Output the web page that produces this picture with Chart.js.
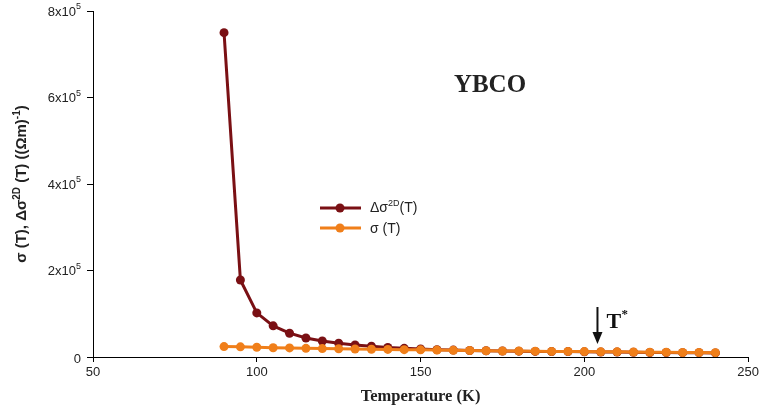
<!DOCTYPE html>
<html>
<head>
<meta charset="utf-8">
<script src="https://cdn.jsdelivr.net/npm/chart.js@4.4.1/dist/chart.umd.min.js"></script>
<style>
  html, body { margin: 0; padding: 0; background: #fff; }
  #wrap { width: 762px; height: 411px; position: relative; }
</style>
</head>
<body>
<div id="wrap"><canvas id="chart"></canvas></div>
<script>
// temperatures (K)
const temps = [90, 95, 100, 105, 110, 115, 120, 125, 130, 135, 140, 145, 150, 155, 160,
    165, 170, 175, 180, 185, 190, 195, 200, 205, 210, 215, 220, 225, 230, 235, 240];

// delta sigma 2D (T)
const deltaSigma2D = [750000, 178000, 102000, 72000, 55000, 44000, 37000, 32000, 28000, 25000,
    22000, 20000, 18500, 17000, 16000, 15000, 14500, 14000, 13500, 13000, 12500, 12500, 12000,
    11500, 11500, 11000, 10500, 10500, 10000, 10000, 9500];

// sigma (T)
const sigmaT = [24000, 23500, 22500, 21500, 21000, 20000, 19500, 19000, 18500, 18000, 17500,
    17000, 16500, 16000, 15500, 15000, 14500, 14000, 14000, 13500, 13000, 13000, 12500, 12000,
    12000, 11500, 11000, 11000, 10500, 10500, 10000];

const yTicks = [0, 2, 4, 6, 8];
const xTicks = [50, 100, 150, 200, 250];

const brown = "#7a1014";
const orange = "#f07f1a";

function toPoints(vals) {
    return temps.map((t, i) => ({ x: t, y: vals[i] }));
}

// custom labels, legend and annotations
const decorPlugin = {
    id: "decor",
    afterDraw: (chart) => {
        const { ctx, scales } = chart;
        const y = scales.y;
        ctx.save();
        ctx.fillStyle = "#222";

        // y tick labels with superscript
        yTicks.forEach((v) => {
            const py = y.getPixelForValue(v * 100000);
            ctx.textBaseline = "middle";
            ctx.textAlign = "right";
            if (v === 0) {
                ctx.font = "13px 'Liberation Sans', Arial";
                ctx.fillText("0", 81, py + 2);
            } else {
                ctx.font = "9px 'Liberation Sans', Arial";
                ctx.fillText("5", 81, py - 4);
                const w5 = ctx.measureText("5").width;
                ctx.font = "13px 'Liberation Sans', Arial";
                ctx.fillText(v + "x10", 81 - w5, py + 1);
            }
        });

        // y axis title, rotated
        ctx.translate(22, 184);
        ctx.rotate(-Math.PI / 2);
        const parts = [
            ["σ (T), Δσ", "bold 15px 'Liberation Sans', Arial", 0],
            ["2D", "bold 10px 'Liberation Sans', Arial", -5],
            [" (T) ((Ωm)", "bold 15px 'Liberation Sans', Arial", 0],
            ["-1", "bold 10px 'Liberation Sans', Arial", -5],
            [")", "bold 15px 'Liberation Sans', Arial", 0],
        ];
        let total = 0;
        parts.forEach((p) => { ctx.font = p[1]; total += ctx.measureText(p[0]).width; });
        let cx = -total / 2;
        ctx.textAlign = "left";
        ctx.textBaseline = "middle";
        parts.forEach((p) => {
            ctx.font = p[1];
            ctx.fillText(p[0], cx, p[2]);
            cx += ctx.measureText(p[0]).width;
        });
        ctx.setTransform(1, 0, 0, 1, 0, 0);

        // legend
        const legend = [
            { color: brown, y: 208 },
            { color: orange, y: 228 },
        ];
        legend.forEach((l) => {
            ctx.strokeStyle = l.color;
            ctx.lineWidth = 3;
            ctx.beginPath();
            ctx.moveTo(320, l.y);
            ctx.lineTo(361, l.y);
            ctx.stroke();
            ctx.fillStyle = l.color;
            ctx.beginPath();
            ctx.arc(340, l.y, 4.5, 0, Math.PI * 2);
            ctx.fill();
        });
        ctx.fillStyle = "#222";
        ctx.textAlign = "left";
        ctx.textBaseline = "middle";
        ctx.font = "14px 'Liberation Sans', Arial";
        ctx.fillText("Δσ", 370, 208);
        let lx = 370 + ctx.measureText("Δσ").width;
        ctx.font = "9px 'Liberation Sans', Arial";
        ctx.fillText("2D", lx, 204);
        lx += ctx.measureText("2D").width;
        ctx.font = "14px 'Liberation Sans', Arial";
        ctx.fillText("(T)", lx, 208);
        ctx.fillText("σ (T)", 370, 229);

        // YBCO label
        ctx.font = "bold 25px 'Liberation Serif', 'Times New Roman'";
        ctx.textAlign = "center";
        ctx.textBaseline = "alphabetic";
        ctx.fillText("YBCO", 490, 92);

        // T* arrow
        const ax = chart.scales.x.getPixelForValue(204);
        ctx.strokeStyle = "#111";
        ctx.fillStyle = "#111";
        ctx.lineWidth = 2;
        ctx.beginPath();
        ctx.moveTo(ax, 307);
        ctx.lineTo(ax, 335);
        ctx.stroke();
        ctx.beginPath();
        ctx.moveTo(ax - 5, 332);
        ctx.lineTo(ax + 5, 332);
        ctx.lineTo(ax, 344);
        ctx.closePath();
        ctx.fill();
        ctx.textAlign = "left";
        ctx.font = "bold 22px 'Liberation Serif', 'Times New Roman'";
        ctx.fillText("T", ax + 9, 328);
        ctx.font = "bold 13px 'Liberation Serif', 'Times New Roman'";
        ctx.fillText("*", ax + 24, 318);
        ctx.restore();
    },
};

new Chart(document.getElementById("chart"), {
    type: "line",
    plugins: [decorPlugin],
    data: {
        datasets: [
            {
                label: "Δσ2D(T)",
                data: toPoints(deltaSigma2D),
                borderColor: brown,
                backgroundColor: brown,
                borderWidth: 3,
                pointRadius: 4.5,
                pointBorderWidth: 0,
                tension: 0,
                order: 2,
            },
            {
                label: "σ (T)",
                data: toPoints(sigmaT),
                borderColor: orange,
                backgroundColor: orange,
                borderWidth: 3,
                pointRadius: 4.5,
                pointBorderWidth: 0,
                tension: 0,
                order: 1,
            },
        ],
    },
    options: {
        responsive: true,
        maintainAspectRatio: false,
        animation: false,
        layout: { padding: { top: 11, right: 13, left: 0, bottom: 0 } },
        plugins: {
            legend: { display: false },
            tooltip: { enabled: false },
        },
        scales: {
            x: {
                type: "linear",
                min: 50,
                max: 250,
                afterBuildTicks: (s) => { s.ticks = xTicks.map((v) => ({ value: v })); },
                afterFit: (s) => { s.height = 54; },
                grid: { drawOnChartArea: false, drawTicks: true, tickLength: 5, color: "#000" },
                border: { color: "#000", width: 1 },
                ticks: {
                    color: "#222",
                    font: { family: "'Liberation Sans', Arial", size: 13 },
                    padding: 3,
                    maxRotation: 0,
                },
                title: {
                    display: true,
                    text: "Temperature (K)",
                    color: "#222",
                    font: { family: "'Liberation Serif', 'Times New Roman'", size: 16.5, weight: "bold" },
                    padding: { top: 4, bottom: 4 },
                },
            },
            y: {
                min: 0,
                max: 800000,
                afterBuildTicks: (s) => { s.ticks = yTicks.map((v) => ({ value: v * 100000 })); },
                afterFit: (s) => { s.width = 93; },
                grid: { drawOnChartArea: false, drawTicks: true, tickLength: 6, color: "#000" },
                border: { color: "#000", width: 1 },
                ticks: { display: false },
            },
        },
    },
});
</script>
</body>
</html>
